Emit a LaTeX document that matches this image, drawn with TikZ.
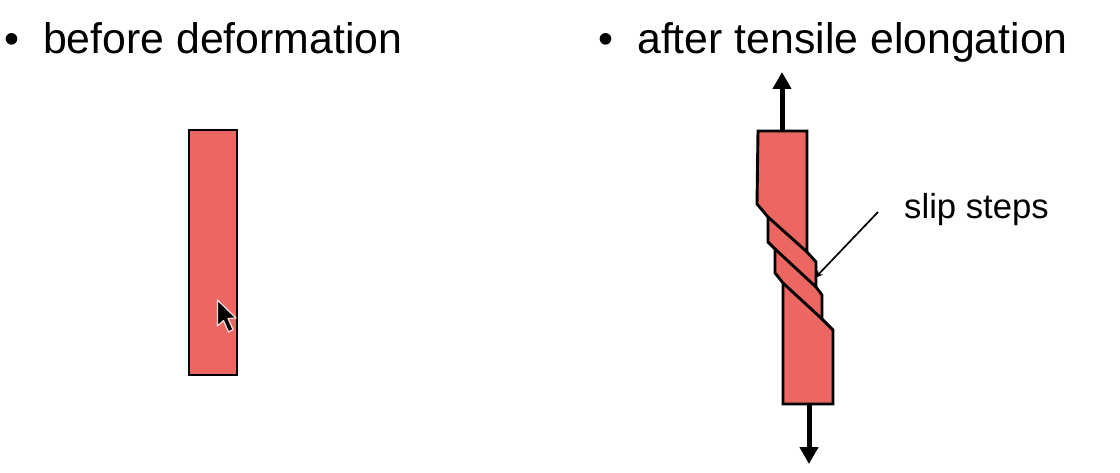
\documentclass[tikz,border=0pt]{standalone}
\usepackage{fontspec}
\setmainfont{Liberation Sans}
\usetikzlibrary{arrows.meta}
\definecolor{barred}{HTML}{EC6762}
\tikzset{
  x=1pt,y=-1pt,
  bar/.style={draw=black,fill=barred,line width=2.9pt,line join=miter},
  slip/.style={draw=black,line width=2.9pt},
  force/.style={draw=black,line width=5pt,-{Triangle[length=17pt,width=18pt]}},
  leader/.style={draw=black,line width=1.7pt,-{Stealth[length=8pt,width=7pt]}},
  heading/.style={anchor=base west,inner sep=0pt,font=\fontsize{42.8}{46}\selectfont},
  note/.style={anchor=base west,inner sep=0pt,font=\fontsize{34.7}{38}\selectfont},
}
\begin{document}
\begin{tikzpicture}
\useasboundingbox (0,0) rectangle (1120,473);
\node[heading] (bulA) at (4,54) {•};
\node[heading] (headA) at (43,54) {before deformation};
\node[heading] (bulB) at (598,54) {•};
\node[heading] (headB) at (637,54) {after tensile elongation};
\node[note] (lab) at (904,219) {slip steps};
% plain bar
\draw[bar] (189,130) rectangle (237,375);
% cursor
\draw[fill=black,draw=white!80!barred,line width=1.2pt,line join=round]
  (217.5,300) -- (217.5,326) -- (223.5,320.5) -- (228.5,332) -- (233,329.5) -- (228,318.5) -- (236,318) -- cycle;
% force arrows
\coordinate (upS) at (782,132); \coordinate (upT) at (782,72);
\coordinate (dnS) at (809,403); \coordinate (dnT) at (809,464);
\draw[force] (upS) -- (upT);
\draw[force] (dnS) -- (dnT);
% deformed bar
\draw[bar] (758,131) -- (807,131) -- (807,252) -- (816,262) -- (816,287) -- (822,295) -- (822,319) -- (833,330) -- (833,404) -- (783,404) -- (783,283) -- (775,273) -- (775,249) -- (768,242) -- (768,217) -- (757,204) -- cycle;
\draw[slip] (768,217) -- (807,252);
\draw[slip] (775,249) -- (816,287);
\draw[slip] (783,283) -- (822,319);
% leader
\coordinate (leadS) at (878,212); \coordinate (leadT) at (815,278);
\draw[leader] (leadS) -- (leadT);
\end{tikzpicture}
\end{document}
